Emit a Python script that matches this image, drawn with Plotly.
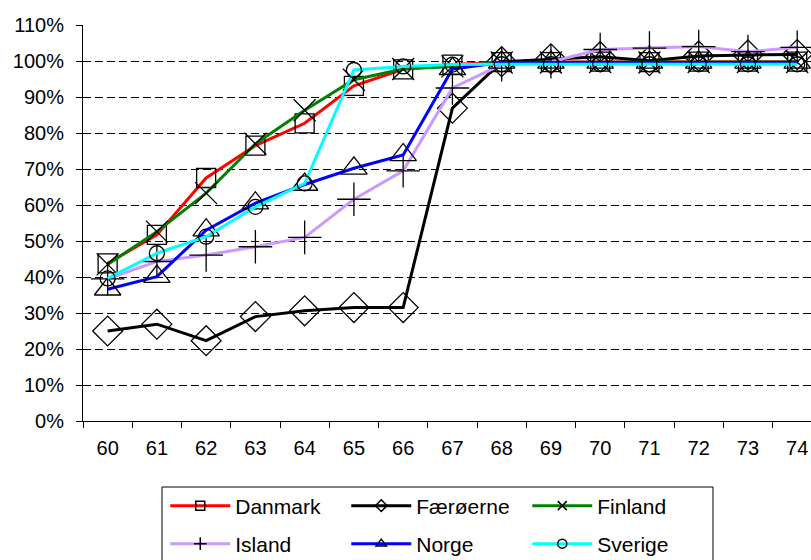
import plotly.graph_objects as go

ages = ["60", "61", "62", "63", "64", "65", "66", "67", "68", "69", "70", "71", "72", "73", "74"]

danmark = [0.438, 0.517, 0.675, 0.765, 0.827, 0.931, 0.977, 0.990, 0.997, 0.997, 0.998, 0.997, 0.998, 0.998, 0.998]
faeroerne = [0.250, 0.269, 0.223, 0.290, 0.306, 0.315, 0.315, 0.869, 0.998, 1.006, 1.012, 1.001, 1.014, 1.017, 1.018]
finland = [0.435, 0.526, 0.633, 0.770, 0.863, 0.948, 0.978, 0.985, 0.996, 0.996, 0.997, 0.996, 0.997, 0.997, 0.997]
island = [0.395, 0.443, 0.461, 0.484, 0.510, 0.616, 0.695, 0.925, 0.990, 0.998, 1.032, 1.036, 1.040, 1.026, 1.038]
norge = [0.366, 0.401, 0.530, 0.605, 0.657, 0.702, 0.739, 0.978, 0.996, 0.996, 0.996, 0.996, 0.996, 0.996, 0.996]
sverige = [0.396, 0.466, 0.512, 0.595, 0.660, 0.975, 0.985, 0.990, 0.991, 0.991, 0.991, 0.991, 0.991, 0.991, 0.991]

series = [
    ("Danmark", danmark, "#FF0000", "square-open", 19, "legend"),
    ("Færøerne", faeroerne, "#000000", "diamond-open", 23, "legend"),
    ("Finland", finland, "#008000", "x-thin-open", 22, "legend"),
    ("Island", island, "#CC99FF", "cross-thin-open", 24, "legend2"),
    ("Norge", norge, "#0000FF", "triangle-up-open", 23, "legend2"),
    ("Sverige", sverige, "#00FFFF", "circle-open", 15, "legend2"),
]

fig = go.Figure()
for name, vals, color, symbol, size, leg in series:
    fig.add_trace(go.Scatter(
        x=ages, y=vals, name=name, mode="lines+markers",
        line=dict(color=color, width=3),
        marker=dict(symbol=symbol, size=size, color="black", line=dict(width=1.3, color="black")),
        showlegend=False,
    ))
# legend entries with small markers
for name, vals, color, symbol, size, leg in series:
    fig.add_trace(go.Scatter(
        x=[None], y=[None], name=name, mode="lines+markers",
        line=dict(color=color, width=3),
        marker=dict(symbol=symbol, size=9, color="black", line=dict(width=1.5, color="black")),
        legend=leg,
    ))

font = dict(family="Liberation Sans, Arial, sans-serif", size=20, color="black")
leg_common = dict(
    orientation="h", xanchor="left", yanchor="middle", x=0.113,
    entrywidth=106, entrywidthmode="pixels", itemwidth=60,
    font=dict(family="Liberation Sans, Arial, sans-serif", size=21, color="black"),
    bgcolor="rgba(0,0,0,0)", borderwidth=0,
)

fig.update_layout(
    width=811, height=560,
    margin=dict(l=83, r=0, t=25, b=139, autoexpand=False),
    plot_bgcolor="white", paper_bgcolor="white",
    font=font,
    legend=dict(leg_common, y=-0.2146),
    legend2=dict(leg_common, y=-0.3106),
    shapes=[dict(
        type="rect", xref="paper", yref="paper",
        x0=0.1085, x1=0.8654, y0=-0.1667, y1=-0.45,
        line=dict(color="black", width=1), fillcolor="rgba(0,0,0,0)",
    )],
)
fig.update_xaxes(
    type="category", range=[-0.5, 14.28],
    showline=True, linecolor="black", linewidth=1,
    ticks="outside", tickson="boundaries", ticklen=6, tickcolor="black",
    showgrid=False, ticklabelstandoff=9,
)
fig.update_yaxes(
    range=[0, 1.1], dtick=0.1, tickformat=".0%",
    showline=True, linecolor="black", linewidth=1,
    ticks="outside", ticklen=6, tickcolor="black",
    showgrid=True, gridcolor="black", gridwidth=1, griddash="8px,4px",
    zeroline=False, ticklabelstandoff=8,
)

# the page's default body margin would shift the chart, so drop it
fig.write_html(
    "out.html",
    config={"displayModeBar": False},
    post_script="document.body.style.margin='0';document.body.style.overflow='hidden';",
)
